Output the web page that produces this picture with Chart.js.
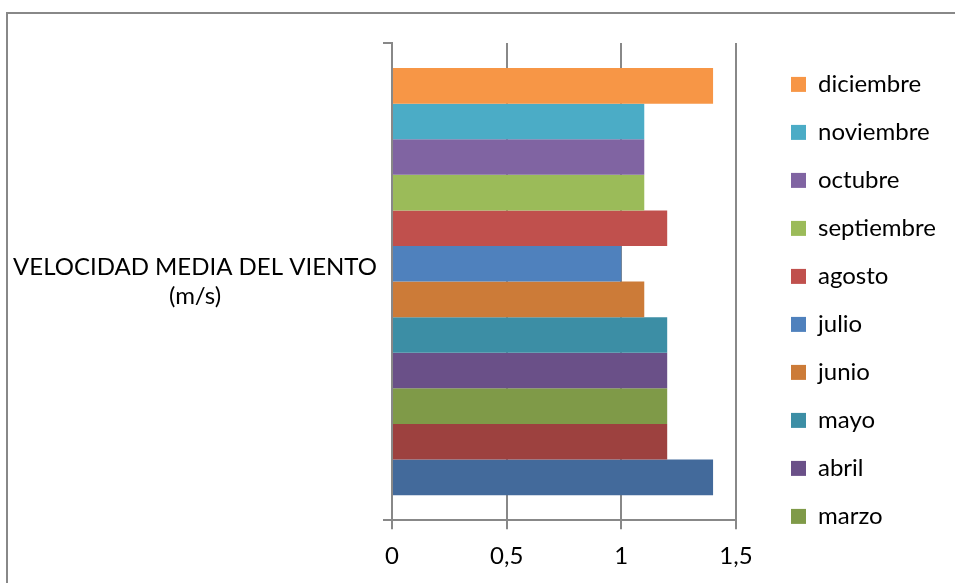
<!DOCTYPE html>
<html lang="es">
<head>
<meta charset="utf-8">
<title>Velocidad media del viento</title>
<script src="https://cdn.jsdelivr.net/npm/chart.js@4/dist/chart.umd.min.js"></script>
<style>
  html, body { margin: 0; padding: 0; background: #ffffff; overflow: hidden; }
  #frame {
    position: absolute; left: 6px; top: 12px;
    width: 1100px; height: 800px;
    border: 2px solid #888888;
  }
  #chart { position: absolute; left: 0; top: 0; }
</style>
</head>
<body>
<div id="frame"></div>
<canvas id="chart" width="955" height="583"></canvas>
<script>
// Mean wind speed per month (m/s)
const months = ['enero', 'febrero', 'marzo', 'abril', 'mayo', 'junio',
                'julio', 'agosto', 'septiembre', 'octubre', 'noviembre', 'diciembre'];
const windSpeed = [1.4, 1.2, 1.2, 1.2, 1.2, 1.1, 1.0, 1.2, 1.1, 1.1, 1.1, 1.4];
const monthColors = ['#436A9B', '#9D413F', '#7F9A48', '#6A5088', '#3C8EA5', '#CC7B38',
                     '#4F81BD', '#C0504D', '#9BBB59', '#8064A2', '#4BACC6', '#F79646'];
const categoryLabel = [['VELOCIDAD MEDIA DEL VIENTO', '(m/s)']];
const xTicks = { min: 0, max: 1.5, step: 0.5 };
// the legend only has room for these months
const legendMonths = ['diciembre', 'noviembre', 'octubre', 'septiembre', 'agosto',
                      'julio', 'junio', 'mayo', 'abril', 'marzo'];

const FONT = 'Lato';
const FONT_SIZE = 24;
const GREY = '#888888';

// plot frame in canvas pixels
const PLOT_LEFT = 392, PLOT_RIGHT = 736, PLOT_TOP = 43;
const LABEL_CENTER_X = 195;
const TICK_LEN = 9;
const LEGEND_GAP = 31;
const LEGEND_PAD = 24;
const BOX = 15;

const mctx = document.createElement('canvas').getContext('2d');
mctx.font = FONT_SIZE + 'px ' + FONT;
const catWidth = Math.max(...categoryLabel[0].map(t => mctx.measureText(t).width));
const yTickPad = PLOT_LEFT - TICK_LEN - LABEL_CENTER_X - catWidth / 2;

// December on top, January at the bottom
const datasets = months.map((m, i) => ({
  label: m,
  data: [windSpeed[i]],
  backgroundColor: monthColors[i],
  borderWidth: 0
})).reverse();

Chart.defaults.font.family = FONT;
Chart.defaults.font.size = FONT_SIZE;
Chart.defaults.color = '#000000';

const chart = new Chart(document.getElementById('chart'), {
  type: 'bar',
  data: { labels: categoryLabel, datasets },
  options: {
    indexAxis: 'y',
    responsive: false,
    animation: false,
    categoryPercentage: 0.895,
    barPercentage: 1,
    layout: { padding: { top: PLOT_TOP, left: 0, right: 0, bottom: 0 } },
    scales: {
      x: {
        type: 'linear',
        min: xTicks.min,
        max: xTicks.max,
        ticks: {
          stepSize: xTicks.step,
          padding: 12.5,
          callback: v => String(v).replace('.', ',')
        },
        grid: { color: GREY, lineWidth: 2, tickLength: TICK_LEN, drawTicks: true },
        border: { color: GREY, width: 2 }
      },
      y: {
        type: 'category',
        offset: true,
        ticks: { crossAlign: 'center', padding: yTickPad },
        grid: { offset: true, drawOnChartArea: false, drawTicks: true,
                tickLength: TICK_LEN, color: GREY, lineWidth: 2 },
        border: { color: GREY, width: 2 },
        afterFit: s => { s.width = PLOT_LEFT; }
      },
      legendGap: {
        type: 'linear',
        position: 'right',
        grid: { display: false },
        border: { display: false },
        ticks: { display: false },
        afterFit: s => { s.width = LEGEND_GAP; }
      }
    },
    plugins: {
      tooltip: { enabled: false },
      legend: {
        position: 'right',
        align: 'start',
        maxWidth: 400,
        title: { display: true, text: '', padding: 0, font: { size: 4.5 } },
        labels: {
          boxWidth: BOX,
          boxHeight: BOX,
          padding: LEGEND_PAD,
          font: { family: FONT, size: FONT_SIZE },
          filter: item => legendMonths.includes(item.text)
        }
      }
    }
  }
});

// pull the legend in from the right edge so the plot ends at the 1,5 gridline
const shift = chart.chartArea.right - PLOT_RIGHT;
if (Math.abs(shift) > 0.25) {
  chart.options.layout.padding.right = shift;
  chart.update();
}
</script>
</body>
</html>
